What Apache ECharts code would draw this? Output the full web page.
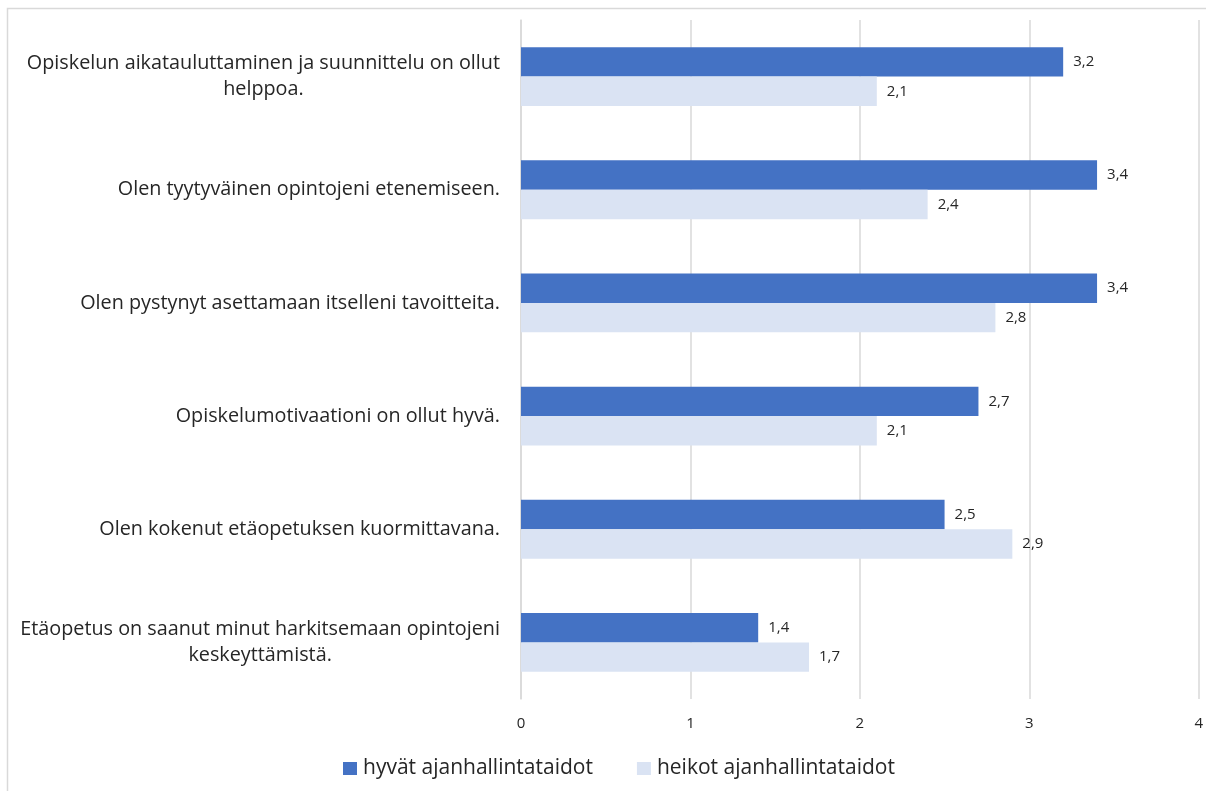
<!DOCTYPE html>
<html>
<head>
<meta charset="utf-8">
<script src="https://cdn.jsdelivr.net/npm/echarts@6/dist/echarts.min.js"></script>
<style>
  html, body { margin: 0; padding: 0; background: #fff; }
  #chart { width: 1206px; height: 791px; }
</style>
</head>
<body>
<div id="chart"></div>
<script>
// Survey statements (top to bottom)
const categories = [
  'Opiskelun aikatauluttaminen ja suunnittelu on ollut\nhelppoa.',
  'Olen tyytyväinen opintojeni etenemiseen.',
  'Olen pystynyt asettamaan itselleni tavoitteita.',
  'Opiskelumotivaationi on ollut hyvä.',
  'Olen kokenut etäopetuksen kuormittavana.',
  'Etäopetus on saanut minut harkitsemaan opintojeni\nkeskeyttämistä.'
];
const seriesNames = ['hyvät ajanhallintataidot', 'heikot ajanhallintataidot'];
const goodSkills = [3.2, 3.4, 3.4, 2.7, 2.5, 1.4];
const weakSkills = [2.1, 2.4, 2.8, 2.1, 2.9, 1.7];
const xTicks = [0, 1, 2, 3, 4];

const FONT = '"Open Sans", Lato, sans-serif';
const fmtComma = v => String(v).replace('.', ',');

const chart = echarts.init(document.getElementById('chart'), null, { renderer: 'canvas' });

const valueLabel = {
  show: true,
  position: 'right',
  distance: 10,
  fontFamily: FONT,
  fontSize: 15,
  color: '#262626',
  formatter: p => fmtComma(p.value)
};

chart.setOption({
  animation: false,
  backgroundColor: '#fff',
  graphic: [{
    type: 'rect',
    shape: { x: 7.5, y: 8.5, width: 1300, height: 900 },
    style: { fill: 'none', stroke: '#D9D9D9', lineWidth: 1.5 },
    silent: true
  }],
  grid: { left: 521, right: 3, top: 20, bottom: 92, containLabel: false },
  legend: {
    data: seriesNames,
    left: 338,
    top: 753,
    itemWidth: 14,
    itemHeight: 13,
    itemGap: 44,
    icon: 'rect',
    textStyle: { fontFamily: FONT, fontSize: 21, color: '#262626', padding: [0, 0, 0, 1] }
  },
  xAxis: {
    type: 'value',
    min: xTicks[0],
    max: xTicks[xTicks.length - 1],
    interval: 1,
    axisLine: { show: false },
    axisTick: { show: false },
    axisLabel: { fontFamily: FONT, fontSize: 15, color: '#262626', margin: 17 },
    splitLine: { show: true, lineStyle: { color: '#D9D9D9', width: 1.5 } }
  },
  yAxis: {
    type: 'category',
    data: categories,
    inverse: true,
    axisLine: { show: true, lineStyle: { color: '#D9D9D9', width: 1.5 } },
    axisTick: { show: false },
    axisLabel: {
      margin: 21,
      formatter: v => v.split('\n').map(s => '{t|' + s + '}').join('\n'),
      rich: {
        t: { fontFamily: FONT, fontSize: 19.8, color: '#262626', align: 'center', lineHeight: 26 }
      }
    }
  },
  series: [
    {
      name: seriesNames[0],
      type: 'bar',
      data: goodSkills,
      barGap: '0%',
      barCategoryGap: '48%',
      itemStyle: { color: '#4472C4' },
      label: valueLabel
    },
    {
      name: seriesNames[1],
      type: 'bar',
      data: weakSkills,
      itemStyle: { color: '#DAE3F3' },
      label: valueLabel
    }
  ]
});
</script>
</body>
</html>
